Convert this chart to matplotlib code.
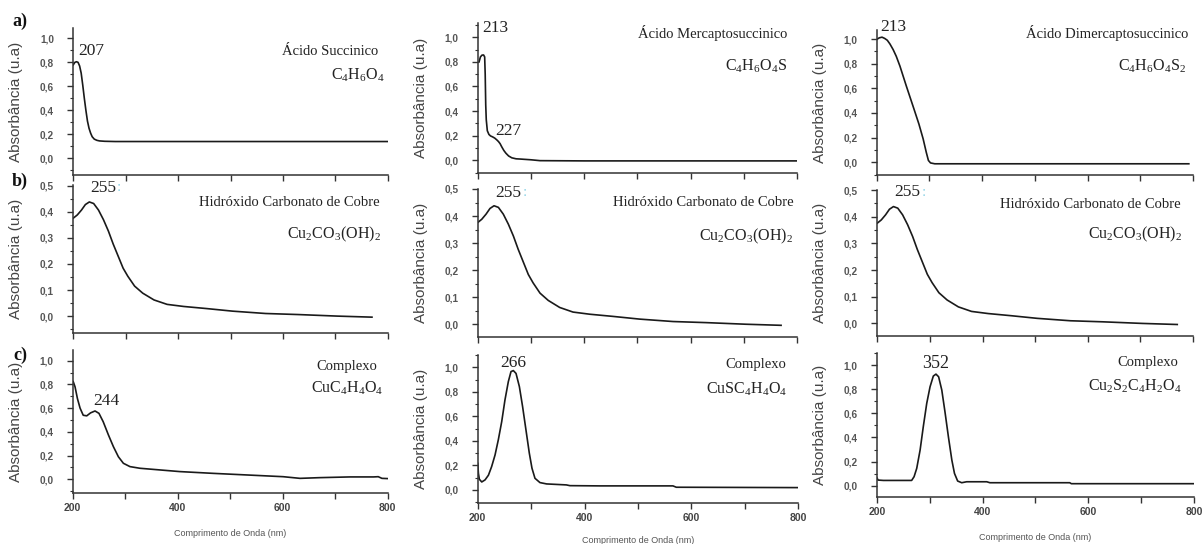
import matplotlib
matplotlib.use("Agg")
import matplotlib.pyplot as plt
from matplotlib.ticker import FixedLocator, MultipleLocator, FuncFormatter

# Fonts: Times-like for annotations, Arial-like for axes
plt.rcParams['font.family'] = ['Liberation Sans', 'DejaVu Sans']
plt.rcParams['mathtext.fontset'] = 'custom'
plt.rcParams['mathtext.rm'] = 'Liberation Serif'
plt.rcParams['mathtext.it'] = 'Liberation Serif:italic'
plt.rcParams['mathtext.bf'] = 'Liberation Serif:bold'

# ---- data (wavelength nm, absorbance u.a) ----
wl_succ = [200, 203, 206, 209, 212, 215, 218, 221, 224, 227, 230, 233, 236, 240, 245,
           250, 260, 280, 320, 400, 500, 600, 700, 800]
abs_succ = [0.78, 0.80, 0.805, 0.80, 0.77, 0.71, 0.61, 0.50, 0.40, 0.31, 0.25, 0.21, 0.18,
            0.16, 0.15, 0.145, 0.142, 0.14, 0.14, 0.14, 0.14, 0.14, 0.14, 0.14]

wl_merc = [202.5, 205, 208, 211, 213, 214, 215, 216, 218, 221, 224, 228, 232, 236, 239,
           242, 245, 249, 253, 258, 264, 272, 280, 300, 317, 400, 500, 600, 700, 800]
abs_merc = [0.80, 0.84, 0.855, 0.856, 0.84, 0.70, 0.45, 0.33, 0.24, 0.21, 0.198, 0.19,
            0.18, 0.165, 0.152, 0.135, 0.11, 0.08, 0.057, 0.035, 0.02, 0.012, 0.01, 0.004,
            -0.003, -0.005, -0.005, -0.005, -0.005, -0.005]

wl_dmerc = [201, 205, 210, 215, 220, 225, 231, 237, 244, 250, 256, 263, 270, 280, 288,
            294, 298, 302, 310, 400, 500, 600, 700, 792]
abs_dmerc = [1.0, 1.01, 1.015, 1.005, 0.99, 0.96, 0.915, 0.86, 0.78, 0.70, 0.62, 0.53,
             0.44, 0.31, 0.19, 0.08, 0.015, -0.005, -0.012, -0.012, -0.012, -0.012,
             -0.012, -0.012]

wl_cu = [200, 207.5, 215.6, 223, 230.6, 238.8, 248, 257.5, 267, 276, 285.6, 295, 304, 317,
         332.5, 354, 379, 410.6, 454, 504, 567, 629, 704, 770]
abs_cu = [0.376, 0.388, 0.407, 0.428, 0.438, 0.432, 0.407, 0.37, 0.326, 0.277, 0.23,
          0.184, 0.153, 0.115, 0.088, 0.062, 0.045, 0.037, 0.029, 0.019, 0.01, 0.006,
          0.0, -0.004]

wl_cx1 = [201, 204.4, 209, 214, 220, 226.7, 234, 242.5, 250, 258, 268, 277.5, 287, 296.5,
          309, 328, 366, 404, 468, 544, 601, 633, 671, 728, 773, 782, 789, 800]
abs_cx1 = [0.823, 0.78, 0.68, 0.60, 0.54, 0.535, 0.56, 0.576, 0.556, 0.486, 0.374, 0.275,
           0.19, 0.135, 0.107, 0.093, 0.079, 0.065, 0.05, 0.034, 0.022, 0.008, 0.014,
           0.02, 0.02, 0.022, 0.008, 0.006]

wl_cx2 = [200, 201.2, 203, 207.5, 213.7, 220, 226, 232.4, 238.6, 244.9, 251, 257.3, 262.3,
          266.7, 271.7, 278, 284, 290.3, 296.6, 301.6, 307.2, 316.5, 329, 366, 372.6,
          428.7, 565.7, 572, 800]
abs_cx2 = [0.217, 0.136, 0.087, 0.065, 0.082, 0.12, 0.19, 0.285, 0.41, 0.557, 0.734,
           0.883, 0.965, 0.973, 0.95, 0.842, 0.68, 0.49, 0.30, 0.177, 0.095, 0.06, 0.049,
           0.041, 0.035, 0.033, 0.033, 0.022, 0.019]

wl_cx3 = [200, 202.5, 212.6, 266, 270.6, 275.6, 282, 288, 294.5, 300.8, 307, 312, 317, 323,
          329, 335.5, 342, 347, 353, 360.7, 370, 408, 414, 565, 568, 800]
abs_cx3 = [0.069, 0.047, 0.044, 0.044, 0.075, 0.144, 0.296, 0.489, 0.682, 0.82, 0.909,
           0.925, 0.903, 0.793, 0.613, 0.406, 0.213, 0.102, 0.039, 0.025, 0.033, 0.033,
           0.025, 0.025, 0.017, 0.017]

ticks_10 = [0.0, 0.2, 0.4, 0.6, 0.8, 1.0]
ticks_05 = [0.0, 0.1, 0.2, 0.3, 0.4, 0.5]

AXC = '#333333'
TXT = '#222222'
SERIF = 'Liberation Serif'

fig = plt.figure(figsize=(12.04, 5.44), dpi=100)
fig.patch.set_facecolor('white')

comma = FuncFormatter(lambda v, p: f"{v:.1f}".replace('.', ','))


def make_axes(rect, ylim, yticks, yminor, bottom_row):
    ax = fig.add_axes(rect)
    ax.set_xlim(200, 800)
    ax.set_ylim(*ylim)
    for s in ['top', 'right']:
        ax.spines[s].set_visible(False)
    for s in ['left', 'bottom']:
        ax.spines[s].set_color(AXC)
        ax.spines[s].set_linewidth(1.1)
    ax.yaxis.set_major_locator(FixedLocator(yticks))
    ax.yaxis.set_minor_locator(MultipleLocator(yminor))
    ax.yaxis.set_major_formatter(comma)
    ax.xaxis.set_major_locator(MultipleLocator(200))
    ax.xaxis.set_minor_locator(MultipleLocator(100))
    ax.tick_params(axis='y', which='major', length=4, width=1, color=AXC, pad=10,
                   labelsize=7.2, labelcolor='#555555')
    ax.tick_params(axis='y', which='minor', length=2.5, width=0.8, color=AXC)
    ax.tick_params(axis='x', which='both', length=4, width=1, color=AXC, pad=3,
                   labelsize=7.5, labelcolor='#444444', labelbottom=bottom_row)
    for lab in ax.get_yticklabels() + ax.get_xticklabels():
        lab.set_fontweight('bold')
    ax.set_ylabel('Absorbância (u.a)', fontsize=11, color='#444444')
    w_px = rect[2] * 1204
    ax.yaxis.set_label_coords(-50 / w_px, 0.5)
    if bottom_row:
        ax.set_xlabel('Comprimento de Onda (nm)', fontsize=6.5, color='#555555')
        bottom_px = (1 - rect[1]) * 544
        off = min(36, 536 - bottom_px)
        ax.xaxis.set_label_coords(0.5, -off / (rect[3] * 544))
    return ax


def note(ax, x, y, s, size=12.5, ha='center'):
    ax.text(x, y, s, transform=ax.transAxes, ha=ha, va='center', fontsize=size,
            family=SERIF, color=TXT)


# ---- row a) acids ----
ax = make_axes([0.0609, 0.6783, 0.2611, 0.2702], (-0.139, 1.086), ticks_10, 0.1, False)
ax.plot(wl_succ, abs_succ, color='#1a1a1a', lw=1.2)
note(ax, 0.056, 0.843, '207')
note(ax, 0.969, 0.837, 'Ácido Succinico', 10.5, 'right')
note(ax, 0.991, 0.68, r'C$_4$H$_6$O$_4$', 11.5, 'right')

ax = make_axes([0.3968, 0.6814, 0.2652, 0.2763], (-0.106, 1.116), ticks_10, 0.1, False)
ax.plot(wl_merc, abs_merc, color='#1a1a1a', lw=1.2)
note(ax, 0.054, 0.967, '213')
note(ax, 0.095, 0.281, '227')
note(ax, 0.969, 0.933, 'Ácido Mercaptosuccinico', 10.5, 'right')
note(ax, 0.969, 0.714, r'C$_4$H$_6$O$_4$S', 11.5, 'right')

ax = make_axes([0.7282, 0.6783, 0.2627, 0.2665], (-0.103, 1.073), ticks_10, 0.1, False)
ax.plot(wl_dmerc, abs_dmerc, color='#1a1a1a', lw=1.2)
note(ax, 0.051, 1.02, '213')
note(ax, 0.984, 0.979, 'Ácido Dimercaptosuccinico', 10.5, 'right')
note(ax, 0.978, 0.752, r'C$_4$H$_6$O$_4$S$_2$', 11.5, 'right')

# ---- row b) copper hydroxide carbonate ----
b_rects = [[0.0609, 0.3873, 0.2611, 0.2726],
           [0.3968, 0.3811, 0.2652, 0.2715],
           [0.7287, 0.3829, 0.2622, 0.2678]]
b_ylims = [(-0.066, 0.503), (-0.046, 0.5), (-0.046, 0.5)]
b_pos = [(0.096, 0.98, 0.975, 0.88, 0.979, 0.665),
         (0.097, 0.976, 0.988, 0.907, 0.988, 0.68),
         (0.096, 0.983, 0.962, 0.90, 0.965, 0.696)]
for rect, yl, p in zip(b_rects, b_ylims, b_pos):
    ax = make_axes(rect, yl, ticks_05, 0.05, False)
    ax.plot(wl_cu, abs_cu, color='#1a1a1a', lw=1.2)
    note(ax, p[0], p[1], '255')
    ax.text(p[0] + 0.05, p[1], ':', transform=ax.transAxes, ha='center', va='center',
            fontsize=11, family=SERIF, color='#8fd3e6')
    note(ax, p[2], p[3], 'Hidróxido Carbonato de Cobre', 10.5, 'right')
    note(ax, p[4], p[5], r'Cu$_2$CO$_3$(OH)$_2$', 11.5, 'right')

# ---- row c) complexes ----
ax = make_axes([0.0604, 0.0932, 0.2616, 0.2634], (-0.118, 1.09), ticks_10, 0.1, True)
ax.plot(wl_cx1, abs_cx1, color='#1a1a1a', lw=1.2)
note(ax, 0.108, 0.644, '244')
note(ax, 0.871, 0.888, 'Complexo', 10.5)
note(ax, 0.871, 0.736, r'CuC$_4$H$_4$O$_4$', 11.5)

ax = make_axes([0.3968, 0.0748, 0.266, 0.2726], (-0.109, 1.10), ticks_10, 0.1, True)
ax.plot(wl_cx2, abs_cx2, color='#1a1a1a', lw=1.2)
note(ax, 0.110, 0.949, '266')
note(ax, 0.868, 0.939, 'Complexo', 10.5)
note(ax, 0.841, 0.766, r'CuSC$_4$H$_4$O$_4$', 11.5)

ax = make_axes([0.7282, 0.0858, 0.2635, 0.2653], (-0.096, 1.10), ticks_10, 0.1, True)
ax.plot(wl_cx3, abs_cx3, color='#1a1a1a', lw=1.2)
note(ax, 0.184, 0.927, '352', 13)
note(ax, 0.853, 0.934, 'Complexo', 10.5)
note(ax, 0.814, 0.77, r'Cu$_2$S$_2$C$_4$H$_2$O$_4$', 11.5)

# row letters
for label, y in [('a)', 21), ('b)', 181), ('c)', 355)]:
    fig.text(20 / 1204, 1 - y / 544, label, ha='center', va='center', fontsize=13,
             fontweight='bold', family=SERIF, color='#111111')

fig.savefig('out.png', dpi=100, facecolor='white')
print("saved out.png")
